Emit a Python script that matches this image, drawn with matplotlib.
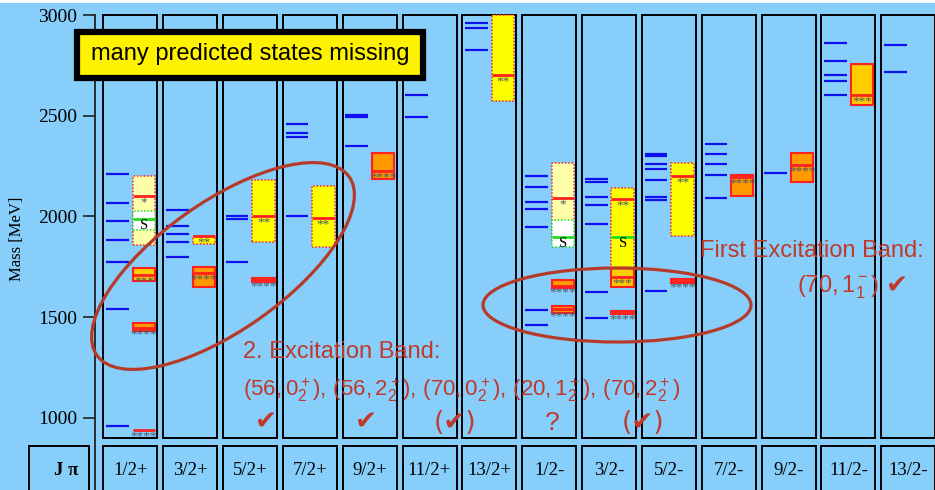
import matplotlib
matplotlib.use("Agg")
import matplotlib.pyplot as plt
from matplotlib.patches import Rectangle, Ellipse
from matplotlib.transforms import ScaledTranslation

plt.rcParams["mathtext.fontset"] = "custom"
plt.rcParams["mathtext.rm"] = "Liberation Sans"
plt.rcParams["mathtext.it"] = "Liberation Sans:italic"
plt.rcParams["mathtext.bf"] = "Liberation Sans:bold"
plt.rcParams["mathtext.sf"] = "Liberation Sans"

SERIF = "Liberation Serif"
SANS = "Liberation Sans"

# ---------------------------------------------------------------- data
jp_labels = ["1/2+", "3/2+", "5/2+", "7/2+", "9/2+", "11/2+", "13/2+",
             "1/2-", "3/2-", "5/2-", "7/2-", "9/2-", "11/2-", "13/2-"]

# quark-model predictions (MeV), one list per J^P column
predicted = [
    [960, 1541, 1772, 1883, 1977, 2068, 2212],
    [1797, 1873, 1912, 1952, 2032],
    [1772, 1985, 2000],
    [2002, 2396, 2416, 2460],
    [2349, 2494, 2503],
    [2494, 2603],
    [2825, 2937, 2962],
    [1462, 1535, 1948, 2035, 2071, 2147, 2199],
    [1495, 1626, 1962, 2058, 2096, 2169, 2184],
    [1629, 2083, 2098, 2182, 2237, 2262, 2298, 2308],
    [2091, 2207, 2259, 2308, 2359],
    [2217],
    [2604, 2674, 2704, 2773, 2861],
    [2718, 2851],
]

# observed resonances: column, mass, mass range, PDG star rating
res_col = [0, 0, 0, 0, 1, 1, 2, 2, 3, 4, 6, 7, 7, 7, 8, 8, 8, 9, 9, 10, 11, 12]
res_mass = [939, 1445, 1710, 2103, 1720, 1901, 1683, 2002, 1992, 2224, 2704,
            1538, 1655, 2093, 1522, 1700, 2085, 1679, 2202, 2194, 2254, 2603]
res_low = [939, 1432, 1681, 1856, 1649, 1861, 1676, 1874, 1849, 2184, 2571,
           1519, 1643, 1880, 1515, 1651, 1742, 1671, 1903, 2101, 2171, 2553]
res_high = [939, 1472, 1742, 2202, 1750, 1904, 1693, 2181, 2152, 2313, 3000,
            1555, 1683, 2263, 1530, 1742, 2142, 1687, 2264, 2204, 2313, 2755]
res_stars = [4, 4, 3, 1, 4, 2, 4, 2, 2, 4, 2, 4, 4, 1, 4, 3, 2, 4, 2, 4, 4, 3]

# states seen only in photoproduction ("S")
s_col = [0, 7, 8]
s_mass = [1988, 1899, 1899]
s_low = [1932, 1849, None]
s_high = [2025, 1982, None]

# ---------------------------------------------------------------- styles
BG = "#87CEFA"
TXT_RED = "#C0392B"
ELL_RED = "#B53A2A"
LINE_RED = "#FF2020"
fill_by_stars = {1: "#FFFFAA", 2: "#FFFF00", 3: "#FFCC00", 4: "#FF9900"}

W, H = 935, 490
fig = plt.figure(figsize=(W / 100, H / 100), dpi=100, facecolor=BG)

MEV_PER_PX = 2000 / (417.7 - 15.0)
y_top = 3000 + 15.0 * MEV_PER_PX
y_bot = 3000 - (H - 15.0) * MEV_PER_PX
pitch = 59.85
x_left = (95 - 103.3) / pitch
x_right = (W - 103.3) / pitch

ax = fig.add_axes([95 / W, 0, (W - 95) / W, 1])
ax.set_facecolor(BG)
ax.set_xlim(x_left, x_right)
ax.set_ylim(y_bot, y_top)
for s in ("top", "right", "bottom"):
    ax.spines[s].set_visible(False)
ax.spines["left"].set_bounds(y_bot, 3000)
ax.spines["left"].set_color("#222222")
ax.spines["left"].set_linewidth(1.3)
ax.set_xticks([])
ax.set_yticks([1000, 1500, 2000, 2500, 3000])
ax.set_yticklabels(["1000", "1500", "2000", "2500", "3000"],
                   fontfamily=SERIF, fontsize=14)
ax.tick_params(axis="y", length=8.6, width=1.2, pad=4.0, color="#222222")

def fig_xy(x, y):
    return x / W, 1 - y / H

col_w = 54 / pitch
col_bottom = 3000 - (438.3 - 15.0) * MEV_PER_PX
lab_top = 3000 - (445.7 - 15.0) * MEV_PER_PX
lab_y = 3000 - (470 - 15.0) * MEV_PER_PX

# column frames and J^P label row
for i, lab in enumerate(jp_labels):
    ax.add_patch(Rectangle((i, col_bottom), col_w, 3000 - col_bottom,
                           fill=False, ec="black", lw=1.4, zorder=1))
    ax.add_patch(Rectangle((i, y_bot - 100), col_w, lab_top - y_bot + 100,
                           fill=False, ec="black", lw=1.4, zorder=1))
    ax.text(i + col_w / 2, lab_y, lab, ha="center", va="center",
            fontfamily=SERIF, fontsize=13.5)
jp_x0 = (29 - 103.3) / pitch
ax.add_patch(Rectangle((jp_x0, y_bot - 100), 60 / pitch, lab_top - y_bot + 100,
                       fill=False, ec="black", lw=1.4, clip_on=False, zorder=1))
ax.text(jp_x0 + 37 / pitch, lab_y, "J π", ha="center", va="center",
        fontfamily=SERIF, fontsize=13.5, fontweight="bold", clip_on=False)

# predicted states
p0, p1 = 2.7 / pitch, 25.4 / pitch
for i, masses in enumerate(predicted):
    for m in masses:
        ax.plot([i + p0, i + p1], [m, m], color="#1010EE", lw=1.6,
                solid_capstyle="butt", zorder=3)

# observed resonances
b0, b1 = 29.4 / pitch, 51.7 / pitch
star_dy = 6.5 * MEV_PER_PX
order = sorted(range(len(res_col)), key=lambda k: res_stars[k])
for k in order:
    i, m, lo, hi, st = res_col[k], res_mass[k], res_low[k], res_high[k], res_stars[k]
    z = 2 + 0.1 * st
    if hi > lo:
        solid = st >= 3
        ax.add_patch(Rectangle((i + b0, lo), b1 - b0, hi - lo,
                               fc=fill_by_stars[st], ec=LINE_RED,
                               lw=1.5 if solid else 1.1,
                               ls="-" if solid else (0, (1, 1.2)), zorder=z))
    ax.plot([i + b0, i + b1], [m, m], color=LINE_RED, lw=2.0,
            solid_capstyle="butt", zorder=z + 0.05)
    ax.text(i + (b0 + b1) / 2, m - star_dy, "*" * st, ha="center", va="center",
            fontfamily=SERIF, fontsize=9.5, color="#4A5566", zorder=4)

for i, m, lo, hi in zip(s_col, s_mass, s_low, s_high):
    if lo is not None:
        ax.add_patch(Rectangle((i + b0, lo), b1 - b0, hi - lo, fc="white",
                               ec="#22DD22", lw=1.1, ls=(0, (1, 1.2)), zorder=2.15))
    ax.plot([i + b0, i + b1], [m, m], color="#22DD22", lw=2.0,
            solid_capstyle="butt", zorder=2.2)
    ax.text(i + (b0 + b1) / 2, m - star_dy, "S", ha="center", va="center",
            fontfamily=SERIF, fontsize=10.5, color="black", zorder=4)

# ellipses marking the excitation bands
def band_ellipse(cx, cy, w_px, h_px, angle):
    tr = fig.dpi_scale_trans + ScaledTranslation(cx, cy, ax.transData)
    e = Ellipse((0, 0), w_px / 100, h_px / 100, angle=angle, fill=False,
                ec=ELL_RED, lw=2.3, transform=tr, zorder=5)
    fig.add_artist(e)

band_ellipse((223 - 103.3) / pitch, 3000 - (266 - 15) * MEV_PER_PX, 309, 128, 35.3)
band_ellipse((617 - 103.3) / pitch, 3000 - (305 - 15) * MEV_PER_PX, 268, 74, 0)

# headline box
fig.add_artist(Rectangle(fig_xy(77, 78), 346 / W, 46 / H, transform=fig.transFigure,
                         fc="#FFF200", ec="black", lw=4.5, zorder=6))
fig.text(*fig_xy(250, 54), "many predicted states missing", ha="center",
         va="center", fontfamily=SANS, fontsize=17, zorder=7)

# band annotations
fig.text(*fig_xy(243, 352), "2. Excitation Band:", ha="left", va="center",
         fontfamily=SANS, fontsize=17, color=TXT_RED, zorder=7)
fig.text(*fig_xy(243, 390),
         r"$(56,0_2^+),\,(56,2_2^+),\,(70,0_2^+),\,(20,1_2^+),\,(70,2_2^+)$",
         ha="left", va="center", fontsize=16, color=TXT_RED, zorder=7)
for x, s in [(266, "✔"), (366, "✔"), (455, "(✔)"), (552, "?"), (643, "(✔)")]:
    fam = ["DejaVu Sans"] if s != "?" else [SANS]
    fig.text(*fig_xy(x, 423), s, ha="center", va="center", fontfamily=fam,
             fontsize=19, color=TXT_RED, zorder=7)

fig.text(*fig_xy(700, 251), "First Excitation Band:", ha="left", va="center",
         fontfamily=SANS, fontsize=17, color=TXT_RED, zorder=7)
fig.text(*fig_xy(797, 287), r"$(70,1_1^-)$", ha="left", va="center",
         fontsize=17, color=TXT_RED, zorder=7)
fig.text(*fig_xy(897, 287), "✔", ha="center", va="center",
         fontfamily="DejaVu Sans", fontsize=19, color=TXT_RED, zorder=7)

fig.text(*fig_xy(17, 239), "Mass [MeV]", rotation=90, ha="center", va="center",
         fontfamily=SERIF, fontsize=12)

fig.add_artist(Rectangle((0, 1 - 3 / H), 1, 3 / H, transform=fig.transFigure,
                         fc="white", ec="none", zorder=8))

fig.savefig("out.png", dpi=100, facecolor=BG)
